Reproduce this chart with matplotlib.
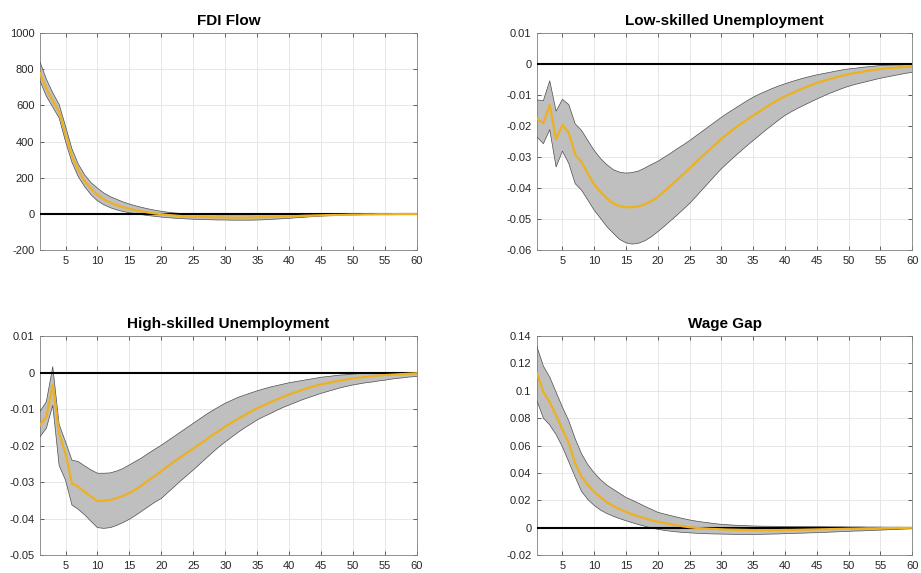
import numpy as np
import matplotlib.pyplot as plt
from matplotlib.ticker import FuncFormatter

plt.rcParams['font.family'] = ['Liberation Sans', 'DejaVu Sans']
plt.rcParams['axes.unicode_minus'] = False

# horizonte de la respuesta al impulso
periodos = np.arange(1, 61)

# FDI Flow: mediana y bandas
fdi_med = [777, 690, 625, 565, 440, 320, 240, 180, 138, 105,
           80, 62, 48, 37, 28, 20, 13, 7, 2, -2,
           -6, -9, -12, -14, -16, -17, -18, -19, -20, -20,
           -21, -21, -21, -20, -19, -18, -17, -16, -15, -14,
           -13, -11, -10, -9, -8, -7, -6, -6, -5, -4,
           -4, -3, -3, -2, -2, -2, -1, -1, -1, -1]
fdi_sup = [840, 745, 670, 605, 485, 360, 275, 215, 172, 142,
           115, 95, 80, 66, 54, 44, 35, 27, 20, 14,
           9, 5, 2, 0, -2, -3, -4, -4, -5, -5,
           -5, -5, -5, -5, -4, -4, -4, -4, -3, -3,
           -3, -3, -2, -2, -2, -2, -2, -1, -1, -1,
           -1, -1, -1, -1, 0, 0, 0, 0, 0, 0]
fdi_inf = [735, 650, 590, 530, 400, 285, 205, 150, 105, 72,
           50, 34, 22, 13, 6, 0, -5, -10, -14, -18,
           -21, -24, -26, -28, -30, -31, -32, -33, -34, -34,
           -35, -35, -35, -35, -34, -33, -31, -29, -27, -25,
           -22, -20, -17, -15, -13, -11, -10, -8, -7, -6,
           -5, -4, -4, -3, -3, -2, -2, -2, -1, -1]

# Low-skilled Unemployment
ls_med = [-0.0177, -0.0191, -0.0132, -0.0243, -0.0196, -0.0222, -0.0292, -0.0316, -0.0354, -0.0389,
          -0.0413, -0.0434, -0.0450, -0.0458, -0.0462, -0.0462, -0.0459, -0.0452, -0.0442, -0.0429,
          -0.0411, -0.0393, -0.0374, -0.0355, -0.0336, -0.0317, -0.0298, -0.0279, -0.0260, -0.0241,
          -0.0225, -0.0209, -0.0194, -0.0180, -0.0166, -0.0153, -0.0140, -0.0127, -0.0115, -0.0104,
          -0.0095, -0.0086, -0.0077, -0.0069, -0.0061, -0.0055, -0.0049, -0.0043, -0.0038, -0.0033,
          -0.0029, -0.0026, -0.0022, -0.0019, -0.0016, -0.0014, -0.0012, -0.0011, -0.0010, -0.0009]
ls_sup = [-0.0116, -0.0118, -0.0054, -0.0152, -0.0114, -0.0131, -0.0193, -0.0214, -0.0247, -0.0279,
          -0.0305, -0.0325, -0.0341, -0.0349, -0.0352, -0.0350, -0.0345, -0.0335, -0.0324, -0.0314,
          -0.0301, -0.0288, -0.0274, -0.0261, -0.0247, -0.0232, -0.0217, -0.0202, -0.0187, -0.0172,
          -0.0158, -0.0145, -0.0132, -0.0119, -0.0107, -0.0097, -0.0088, -0.0079, -0.0071, -0.0064,
          -0.0057, -0.0051, -0.0045, -0.0040, -0.0035, -0.0031, -0.0027, -0.0023, -0.0019, -0.0016,
          -0.0014, -0.0011, -0.0009, -0.0007, -0.0005, -0.0004, -0.0003, -0.0003, -0.0002, -0.0002]
ls_inf = [-0.0236, -0.0257, -0.0212, -0.0332, -0.0281, -0.0321, -0.0386, -0.0407, -0.0439, -0.0472,
          -0.0498, -0.0525, -0.0546, -0.0566, -0.0577, -0.0581, -0.0578, -0.0570, -0.0557, -0.0541,
          -0.0524, -0.0506, -0.0488, -0.0469, -0.0450, -0.0428, -0.0405, -0.0383, -0.0360, -0.0338,
          -0.0319, -0.0300, -0.0282, -0.0264, -0.0247, -0.0230, -0.0213, -0.0197, -0.0181, -0.0166,
          -0.0154, -0.0143, -0.0133, -0.0123, -0.0113, -0.0104, -0.0095, -0.0087, -0.0079, -0.0072,
          -0.0066, -0.0061, -0.0056, -0.0051, -0.0046, -0.0042, -0.0038, -0.0034, -0.0030, -0.0027]

# High-skilled Unemployment
hs_med = [-0.0144, -0.0121, -0.0034, -0.0168, -0.0222, -0.0304, -0.0313, -0.0327, -0.0340, -0.0352,
          -0.0352, -0.0349, -0.0344, -0.0338, -0.0330, -0.0320, -0.0308, -0.0295, -0.0283, -0.0270,
          -0.0257, -0.0244, -0.0232, -0.0220, -0.0208, -0.0196, -0.0184, -0.0171, -0.0160, -0.0148,
          -0.0137, -0.0127, -0.0117, -0.0107, -0.0098, -0.0090, -0.0082, -0.0074, -0.0067, -0.0060,
          -0.0054, -0.0048, -0.0042, -0.0037, -0.0032, -0.0029, -0.0025, -0.0022, -0.0019, -0.0016,
          -0.0014, -0.0012, -0.0010, -0.0008, -0.0007, -0.0006, -0.0005, -0.0004, -0.0003, -0.0002]
hs_sup = [-0.0107, -0.0080, 0.0016, -0.0142, -0.0190, -0.0240, -0.0244, -0.0256, -0.0267, -0.0276,
          -0.0276, -0.0275, -0.0270, -0.0263, -0.0253, -0.0243, -0.0233, -0.0221, -0.0210, -0.0199,
          -0.0187, -0.0175, -0.0163, -0.0151, -0.0139, -0.0127, -0.0115, -0.0104, -0.0094, -0.0084,
          -0.0076, -0.0068, -0.0062, -0.0056, -0.0050, -0.0045, -0.0040, -0.0036, -0.0032, -0.0028,
          -0.0025, -0.0022, -0.0019, -0.0016, -0.0013, -0.0011, -0.0009, -0.0007, -0.0006, -0.0004,
          -0.0003, -0.0003, -0.0002, -0.0002, -0.0001, -0.0001, -0.0001, 0.0, 0.0, 0.0]
hs_inf = [-0.0176, -0.0153, -0.0090, -0.0255, -0.0295, -0.0363, -0.0375, -0.0390, -0.0408, -0.0425,
          -0.0427, -0.0425, -0.0419, -0.0411, -0.0402, -0.0391, -0.0379, -0.0367, -0.0355, -0.0345,
          -0.0329, -0.0313, -0.0297, -0.0282, -0.0267, -0.0251, -0.0235, -0.0219, -0.0204, -0.0190,
          -0.0177, -0.0164, -0.0152, -0.0141, -0.0130, -0.0121, -0.0113, -0.0104, -0.0096, -0.0089,
          -0.0082, -0.0075, -0.0069, -0.0063, -0.0057, -0.0052, -0.0047, -0.0042, -0.0038, -0.0034,
          -0.0031, -0.0028, -0.0026, -0.0023, -0.0021, -0.0018, -0.0016, -0.0014, -0.0012, -0.0011]

# Wage Gap
wg_med = [0.1127, 0.0990, 0.0915, 0.0820, 0.0715, 0.0618, 0.0470, 0.0372, 0.0311, 0.0260,
          0.0221, 0.0186, 0.0158, 0.0135, 0.0115, 0.0097, 0.0081, 0.0067, 0.0054, 0.0043,
          0.0034, 0.0025, 0.0017, 0.0009, 0.0003, -0.0002, -0.0005, -0.0008, -0.0010, -0.0012,
          -0.0014, -0.0015, -0.0016, -0.0017, -0.0018, -0.0018, -0.0018, -0.0018, -0.0018, -0.0017,
          -0.0017, -0.0016, -0.0015, -0.0014, -0.0013, -0.0012, -0.0011, -0.0010, -0.0009, -0.0008,
          -0.0007, -0.0006, -0.0005, -0.0005, -0.0004, -0.0003, -0.0003, -0.0002, -0.0002, -0.0001]
wg_sup = [0.1320, 0.1180, 0.1100, 0.0990, 0.0880, 0.0780, 0.0650, 0.0540, 0.0460, 0.0400,
          0.0350, 0.0310, 0.0280, 0.0250, 0.0220, 0.0200, 0.0178, 0.0155, 0.0134, 0.0112,
          0.0100, 0.0088, 0.0077, 0.0066, 0.0056, 0.0048, 0.0041, 0.0035, 0.0029, 0.0024,
          0.0021, 0.0018, 0.0016, 0.0014, 0.0012, 0.0011, 0.0010, 0.0010, 0.0009, 0.0009,
          0.0008, 0.0008, 0.0008, 0.0007, 0.0007, 0.0007, 0.0006, 0.0006, 0.0006, 0.0005,
          0.0005, 0.0005, 0.0004, 0.0004, 0.0004, 0.0003, 0.0003, 0.0003, 0.0002, 0.0002]
wg_inf = [0.0925, 0.0800, 0.0750, 0.0680, 0.0590, 0.0480, 0.0370, 0.0265, 0.0205, 0.0162,
          0.0128, 0.0103, 0.0083, 0.0066, 0.0050, 0.0036, 0.0022, 0.0010, -0.0002, -0.0012,
          -0.0020, -0.0026, -0.0031, -0.0035, -0.0038, -0.0041, -0.0043, -0.0045, -0.0046, -0.0047,
          -0.0048, -0.0049, -0.0050, -0.0050, -0.0050, -0.0049, -0.0048, -0.0047, -0.0046, -0.0044,
          -0.0043, -0.0041, -0.0040, -0.0038, -0.0037, -0.0035, -0.0033, -0.0031, -0.0029, -0.0027,
          -0.0025, -0.0024, -0.0022, -0.0020, -0.0018, -0.0016, -0.0014, -0.0012, -0.0010, -0.0008]

titulos = ['FDI Flow', 'Low-skilled Unemployment', 'High-skilled Unemployment', 'Wage Gap']
limites_y = [(-200, 1000), (-0.06, 0.01), (-0.05, 0.01), (-0.02, 0.14)]
pasos_y = [200, 0.01, 0.01, 0.02]
series = [(fdi_med, fdi_inf, fdi_sup), (ls_med, ls_inf, ls_sup),
          (hs_med, hs_inf, hs_sup), (wg_med, wg_inf, wg_sup)]

# posiciones de los 4 paneles en la figura
posiciones = [[0.0434, 0.5637, 0.4094, 0.3787],
              [0.5831, 0.5637, 0.4072, 0.3787],
              [0.0434, 0.0314, 0.4094, 0.3822],
              [0.5831, 0.0314, 0.4072, 0.3822]]

gris_eje = '#262626'

def formato(v, pos):
    if abs(v) < 1e-12:
        return '0'
    return '%g' % round(v, 6)

fig = plt.figure(figsize=(9.21, 5.73), dpi=100)

for i in range(4):
    ax = fig.add_axes(posiciones[i])
    med, inf, sup = series[i]
    ax.fill_between(periodos, inf, sup, facecolor='#bfbfbf', edgecolor='none', zorder=2)
    ax.plot(periodos, sup, color='#4d4d4d', lw=0.5, zorder=3)
    ax.plot(periodos, inf, color='#4d4d4d', lw=0.5, zorder=3)
    ax.axhline(0, color='black', lw=1.5, zorder=4)
    ax.plot(periodos, med, color='#EDB120', lw=1.6, zorder=5)

    ax.set_xlim(1, 60)
    ax.set_ylim(limites_y[i])
    ax.set_xticks(np.arange(5, 61, 5))
    lo, hi = limites_y[i]
    ax.set_yticks(np.arange(lo, hi + pasos_y[i] / 2, pasos_y[i]))
    ax.yaxis.set_major_formatter(FuncFormatter(formato))
    ax.grid(True, color='#e3e3e3', lw=0.6, zorder=0)
    ax.set_axisbelow(True)
    ax.tick_params(direction='in', top=True, right=True, length=3, width=0.5,
                   labelsize=8, colors=gris_eje, pad=4)
    for s in ax.spines.values():
        s.set_color('#7f7f7f')
        s.set_linewidth(0.6)
    ax.set_title(titulos[i], fontsize=11, fontweight='bold', pad=6)

fig.savefig('out.png', dpi=100)
